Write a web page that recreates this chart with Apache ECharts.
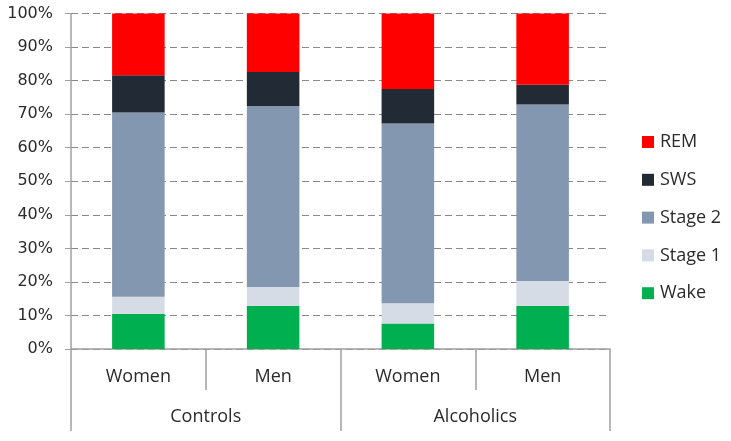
<!DOCTYPE html>
<html>
<head>
<meta charset="utf-8">
<script src="https://cdn.jsdelivr.net/npm/echarts@6/dist/echarts.min.js"></script>
<style>
html,body{margin:0;padding:0;background:#fff;}
#chart{width:731px;height:441px;}
</style>
</head>
<body>
<div id="chart"></div>
<script>
var subCategories = ['Women', 'Men', 'Women', 'Men'];
var groupCategories = ['Controls', 'Alcoholics'];
var yTicks = [0, 10, 20, 30, 40, 50, 60, 70, 80, 90, 100];

var wake   = [10.4, 12.8, 7.6, 12.8];
var stage1 = [5.2, 5.7, 6.0, 7.5];
var stage2 = [54.9, 53.9, 53.6, 52.6];
var sws    = [11.1, 10.2, 10.3, 5.9];
var rem    = [18.4, 17.4, 22.5, 21.2];

var seriesNames = ['Wake', 'Stage 1', 'Stage 2', 'SWS', 'REM'];
var seriesValues = [wake, stage1, stage2, sws, rem];
var seriesColors = ['#00B050', '#D6DCE5', '#8497B0', '#222A35', '#FF0000'];
var legendOrder = ['REM', 'SWS', 'Stage 2', 'Stage 1', 'Wake'];

var chart = echarts.init(document.getElementById('chart'), null, {renderer: 'canvas'});
var axisGray = '#A0A0A0';
var textColor = '#2b2b2b';

var series = seriesNames.map(function (name, i) {
  return {
    name: name,
    type: 'bar',
    stack: 'total',
    barWidth: '39%',
    xAxisIndex: 0,
    data: seriesValues[i],
    itemStyle: {color: seriesColors[i]},
    emphasis: {disabled: true}
  };
});

chart.setOption({
  animation: false,
  grid: {left: 71, right: 121, top: 13.5, bottom: 92, containLabel: false},
  legend: {
    data: legendOrder,
    orient: 'vertical',
    left: 642,
    top: 133,
    padding: 0,
    itemWidth: 12,
    itemHeight: 12,
    itemGap: 19.8,
    icon: 'rect',
    textStyle: {fontFamily: 'Open Sans', fontSize: 18, color: textColor, padding: [0, 0, 0, 1]}
  },
  xAxis: [
    {
      type: 'category',
      position: 'bottom',
      data: subCategories,
      axisLine: {show: true, lineStyle: {color: axisGray, width: 1.5}},
      axisTick: {show: true, length: 41, interval: 0, lineStyle: {color: axisGray, width: 1.5}},
      axisLabel: {interval: 0, margin: 19, fontFamily: 'Open Sans', fontSize: 18, color: textColor}
    },
    {
      type: 'category',
      position: 'bottom',
      data: groupCategories,
      axisLine: {show: false},
      axisTick: {show: true, length: 82, interval: 0, lineStyle: {color: axisGray, width: 1.5}},
      axisLabel: {interval: 0, margin: 59, fontFamily: 'Open Sans', fontSize: 18, color: textColor}
    }
  ],
  yAxis: {
    type: 'value',
    min: yTicks[0],
    max: yTicks[yTicks.length - 1],
    interval: 10,
    axisLine: {show: true, lineStyle: {color: axisGray, width: 1.5}},
    axisTick: {show: true, length: 6, lineStyle: {color: axisGray}},
    axisLabel: {formatter: '{value}%', margin: 18, fontFamily: 'DejaVu Sans', fontSize: 16, color: textColor},
    splitLine: {show: true, lineStyle: {color: '#888888', type: [7, 4], width: 1.2}}
  },
  series: series
});
</script>
</body>
</html>
